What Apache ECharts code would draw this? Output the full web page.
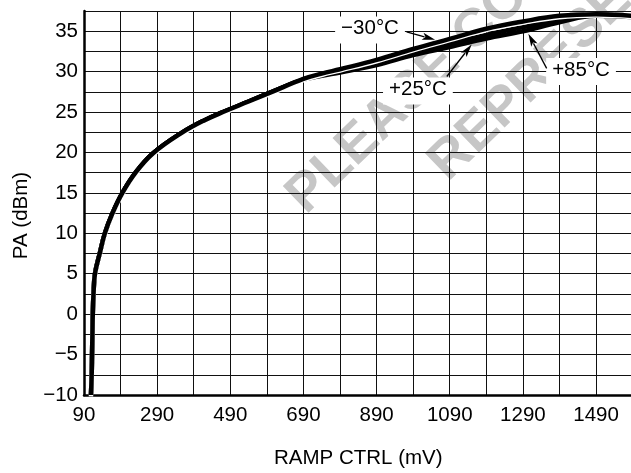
<!DOCTYPE html>
<html>
<head>
<meta charset="utf-8">
<script src="https://cdn.jsdelivr.net/npm/echarts@6/dist/echarts.min.js"></script>
<style>
  html, body { margin: 0; padding: 0; background: #fff; }
  #chart { width: 631px; height: 473px; }
</style>
</head>
<body>
<div id="chart"></div>
<script>
// RAMP CTRL voltage (mV) shared by all three temperature curves
const rampCtrlMv = [109, 111, 112, 113, 114, 116, 120, 133, 147, 168, 195, 231, 279, 358, 420, 470,
                    540, 604, 690, 740, 790, 890, 990, 1090, 1190, 1290, 1390, 1490, 1590];

// Output power (dBm) per temperature
const paMinus30 = [-10, -7.5, -5, -2.5, 0, 2.5, 5, 7.5, 10, 12.5, 15, 17.5, 19.9, 22.45, 24.0, 25.0,
                   26.3, 27.5, 29.1, 29.75, 30.3, 31.45, 32.8, 34.05, 35.3, 36.2, 36.9, 37.1, 36.9];
const paPlus25  = [-10, -7.5, -5, -2.5, 0, 2.5, 5, 7.5, 10, 12.5, 15, 17.5, 19.9, 22.45, 24.0, 25.0,
                   26.3, 27.5, 29.05, 29.6, 30.05, 31.05, 32.35, 33.5, 34.55, 35.5, 36.4, 37.0, 36.8];
const paPlus85  = [-10, -7.5, -5, -2.5, 0, 2.5, 5, 7.5, 10, 12.5, 15, 17.5, 19.9, 22.45, 24.0, 25.0,
                   26.3, 27.5, 29.0, 29.5, 29.9, 30.8, 32.05, 33.05, 34.1, 35.0, 36.1, 36.9, 36.75];

// Labelled ticks
const xTickLabels = [90, 290, 490, 690, 890, 1090, 1290, 1490];
const yTickLabels = [-10, -5, 0, 5, 10, 15, 20, 25, 30, 35];

// Curve call-outs: text, label centre, arrow tail and arrow tip (data units)
const calloutText  = ['\u221230\u00B0C', '+25\u00B0C', '+85\u00B0C'];
const calloutLabel = [[872, 35.35], [1003, 27.8], [1449, 30.2]];
const calloutTail  = [[972, 34.93], [1082, 29.4], [1355, 30.4]];
const calloutTip   = [[1050, 33.95], [1150, 33.35], [1305, 34.7]];

const FONT = '"Liberation Sans", Arial, Helvetica, sans-serif';
const FS = 20.5;

const pairs = ys => rampCtrlMv.map((x, i) => [x, ys[i]]);
const signed = v => String(v).replace('-', '\u2212');

const chart = echarts.init(document.getElementById('chart'), null, { renderer: 'canvas' });

const curve = (name, ys, z, extra) => ({
  type: 'line',
  name: name,
  data: pairs(ys),
  showSymbol: false,
  smooth: 0.4,
  z: z,
  lineStyle: Object.assign({ color: '#000', width: 4.5, cap: 'butt', join: 'round' }, extra || {})
});

chart.setOption({
  animation: false,
  backgroundColor: '#fff',
  grid: { left: 84, top: 11, width: 548.6, height: 384, containLabel: false, outerBoundsMode: 'none' },
  xAxis: {
    type: 'value', min: 90, max: 1590, interval: 100,
    name: 'RAMP CTRL (mV)', nameLocation: 'middle', nameGap: 53,
    nameTextStyle: { color: '#000', fontFamily: FONT, fontSize: FS },
    axisLine: { show: true, onZero: false, lineStyle: { color: '#000', width: 2.5 } },
    axisTick: { show: false },
    splitLine: { show: true, lineStyle: { color: '#111', width: 1 } },
    axisLabel: {
      margin: 10, color: '#000', fontFamily: FONT, fontSize: FS,
      showMinLabel: true, showMaxLabel: true, hideOverlap: false,
      formatter: v => xTickLabels.includes(Math.round(v)) ? String(Math.round(v)) : ''
    }
  },
  yAxis: {
    type: 'value', min: -10, max: 37.5, interval: 2.5,
    axisLine: { show: true, onZero: false, lineStyle: { color: '#000', width: 2.5 } },
    axisTick: { show: false },
    splitLine: { show: true, lineStyle: { color: '#111', width: 1 } },
    axisLabel: {
      margin: 6, color: '#000', fontFamily: FONT, fontSize: FS,
      showMinLabel: true, showMaxLabel: true, hideOverlap: false,
      formatter: v => yTickLabels.includes(v) ? signed(v) : ''
    }
  },
  series: [
    curve('+85\u00B0C', paPlus85, 3),
    curve('+25\u00B0C', paPlus25, 4),
    curve('\u221230\u00B0C', paMinus30, 5, { shadowColor: '#fff', shadowBlur: 0, shadowOffsetX: 0, shadowOffsetY: 1.3 })
  ]
});

// Overlay: y-axis title, watermark, call-out boxes and arrows
const px = p => chart.convertToPixel({ gridIndex: 0 }, p);
const graphics = [];

graphics.push({
  type: 'text', x: 21, y: 215.5, rotation: Math.PI / 2, z: 50,
  style: { text: 'PA (dBm)', fill: '#000', font: FS + 'px ' + FONT, align: 'center', verticalAlign: 'middle' }
});

const wmFont = 'bold 54px ' + FONT;
const wmAngle = 44 * Math.PI / 180;
graphics.push({
  type: 'text', x: 277, y: 185, rotation: wmAngle, z: -10, silent: true,
  style: { text: 'PLEASE CONTACT', fill: '#c6c6c6', font: wmFont, align: 'left', verticalAlign: 'top' }
});
graphics.push({
  type: 'text', x: 419, y: 152, rotation: wmAngle, z: -10, silent: true,
  style: { text: 'REPRESENTATIVE', fill: '#c6c6c6', font: wmFont, align: 'left', verticalAlign: 'top' }
});

calloutText.forEach((txt, i) => {
  const c = px(calloutLabel[i]);
  const w = echarts.format.getTextRect ? echarts.format.getTextRect(txt, FS + 'px ' + FONT).width : 60;
  graphics.push({
    type: 'rect', z: 60,
    shape: { x: c[0] - w / 2 - 6, y: c[1] - 12, width: w + 12, height: 27 },
    style: { fill: '#fff' }
  });
  graphics.push({
    type: 'text', x: c[0], y: c[1], z: 61,
    style: { text: txt, fill: '#000', font: FS + 'px ' + FONT, align: 'center', verticalAlign: 'middle' }
  });
  const a = px(calloutTail[i]);
  const b = px(calloutTip[i]);
  const dx = b[0] - a[0], dy = b[1] - a[1];
  const len = Math.hypot(dx, dy);
  const ux = dx / len, uy = dy / len;
  const headLen = 13, headHalf = 3.6;
  const bx = b[0] - ux * headLen, by = b[1] - uy * headLen;
  graphics.push({
    type: 'line', z: 62,
    shape: { x1: a[0], y1: a[1], x2: bx + ux * 2, y2: by + uy * 2 },
    style: { stroke: '#000', lineWidth: 1.3 }
  });
  graphics.push({
    type: 'polygon', z: 62,
    shape: { points: [[b[0], b[1]], [bx - uy * headHalf, by + ux * headHalf], [bx + ux * 3, by + uy * 3], [bx + uy * headHalf, by - ux * headHalf]] },
    style: { fill: '#000' }
  });
});

chart.setOption({ graphic: graphics });
</script>
</body>
</html>
